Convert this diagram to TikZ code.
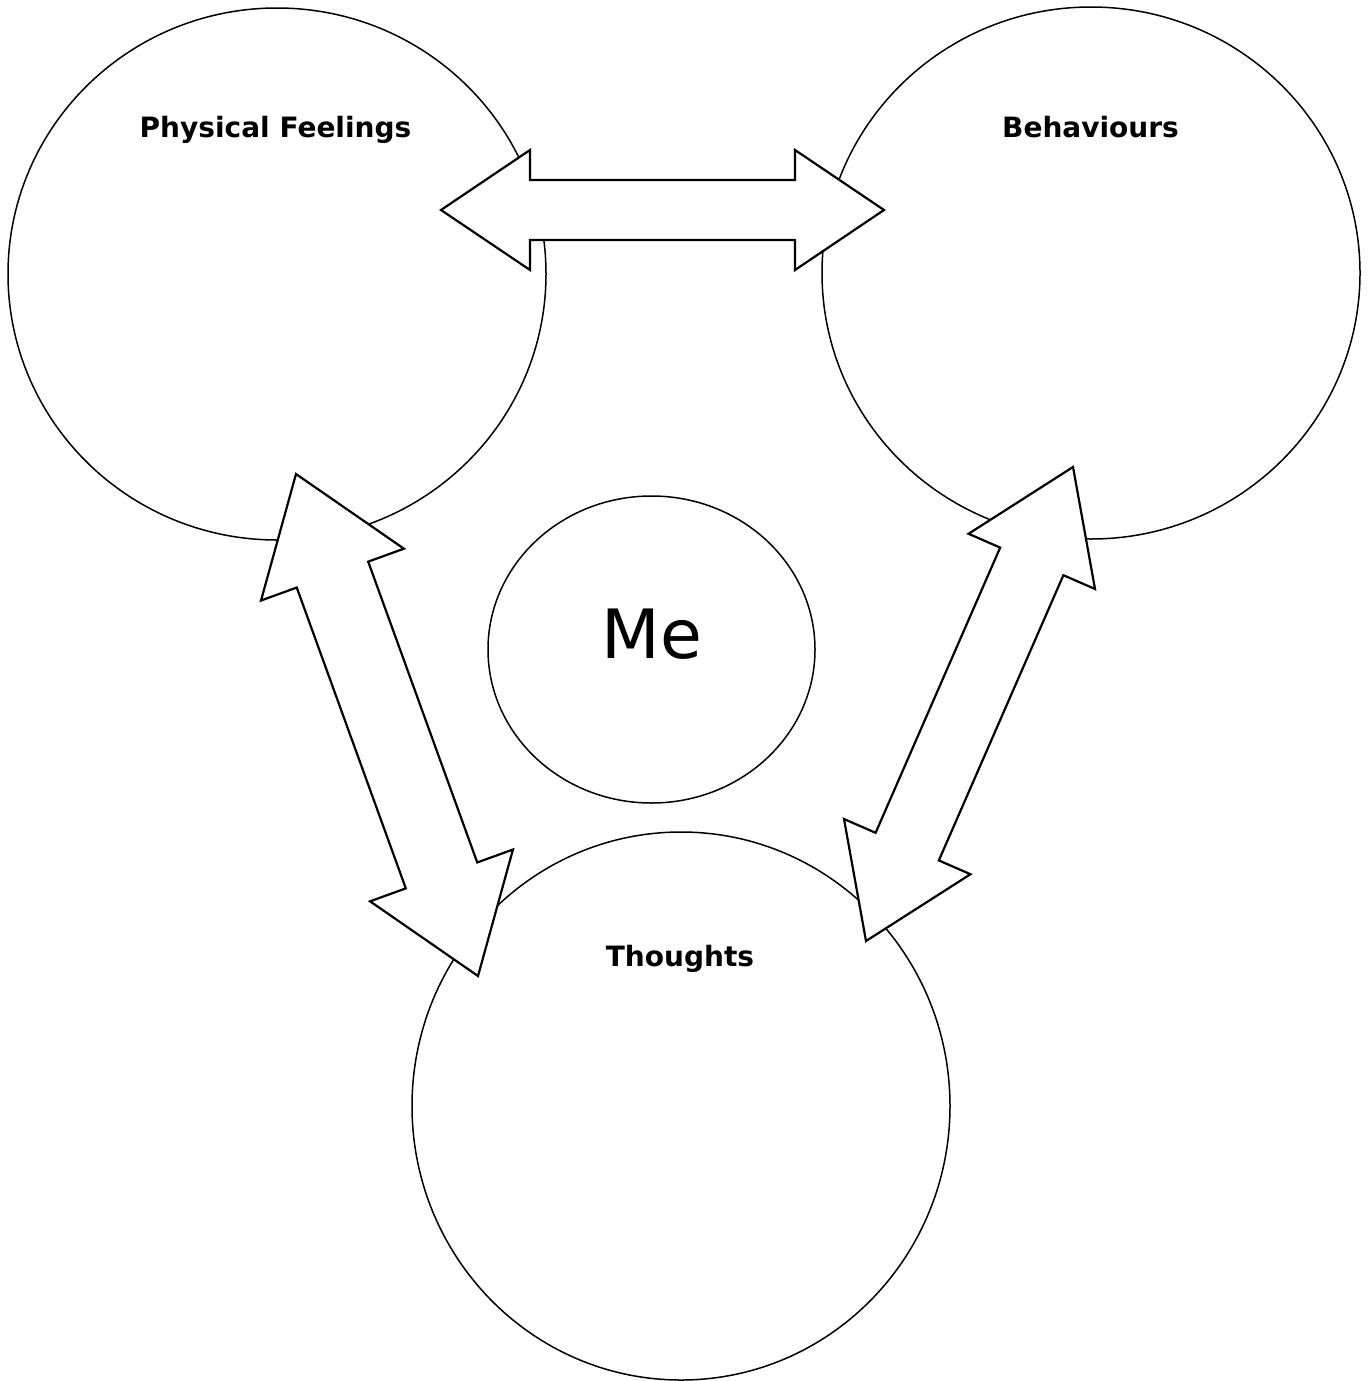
\documentclass[tikz,border=0pt]{standalone}
\usepackage{fontspec}
\setmainfont{DejaVu Sans}
\usetikzlibrary{shapes.geometric, calc}

\newcommand{\blockarrow}[5]{%
  \draw [block] (#1)
    -- ($(#1)!#3!(#2)!#4!90:(#2)$) -- ($(#1)!#3!(#2)!#5!90:(#2)$)
    -- ($(#2)!#3!(#1)!#5!-90:(#1)$) -- ($(#2)!#3!(#1)!#4!-90:(#1)$)
    -- (#2)
    -- ($(#2)!#3!(#1)!#4!90:(#1)$) -- ($(#2)!#3!(#1)!#5!90:(#1)$)
    -- ($(#1)!#3!(#2)!#5!-90:(#2)$) -- ($(#1)!#3!(#2)!#4!-90:(#2)$)
    -- cycle;}

\begin{document}
\begin{tikzpicture}[
    x = 0.5pt, y = -0.5pt,
    bubble/.style = {ellipse,
      draw,
      line width = 0.75pt,
      inner sep = 0pt},
    block/.style = {draw, fill = white, line width = 1.1pt, line join = miter},
    heading/.style = {anchor = base, font = \fontsize{14}{17}\selectfont\bfseries}
    ]

    \useasboundingbox (0, 0) rectangle (1367, 1381);

    \node at (277, 274) [bubble, minimum width = 269pt, minimum height = 266pt, name = F] {};
    \node at (1091, 273) [bubble, minimum width = 269pt, minimum height = 266pt, name = B] {};
    \node at (681, 1106) [bubble, minimum width = 269pt, minimum height = 274pt, name = T] {};
    \node at (651.5, 649.5) [bubble, minimum width = 163.5pt, minimum height = 153.5pt, name = M] {};

    \coordinate (FB) at (441, 210);
    \coordinate (BF) at (884, 210);
    \coordinate (FT) at (296, 474);
    \coordinate (TF) at (478, 976);
    \coordinate (BT) at (1073, 467);
    \coordinate (TB) at (866, 941);

    \blockarrow{FB}{BF}{44.5pt}{30pt}{15pt}
    \blockarrow{FT}{TF}{53.5pt}{38pt}{19pt}
    \blockarrow{BT}{TB}{51.5pt}{34.5pt}{17.25pt}

    \node at (275.5, 137) [heading, name = Flab] {Physical Feelings};
    \node at (1090.5, 137) [heading, name = Blab] {Behaviours};
    \node at (680, 966) [heading, name = Tlab] {Thoughts};
    \node at (652, 658) [anchor = base, font = \fontsize{34}{40}\selectfont, name = Mlab] {Me};

  \end{tikzpicture}
\end{document}
